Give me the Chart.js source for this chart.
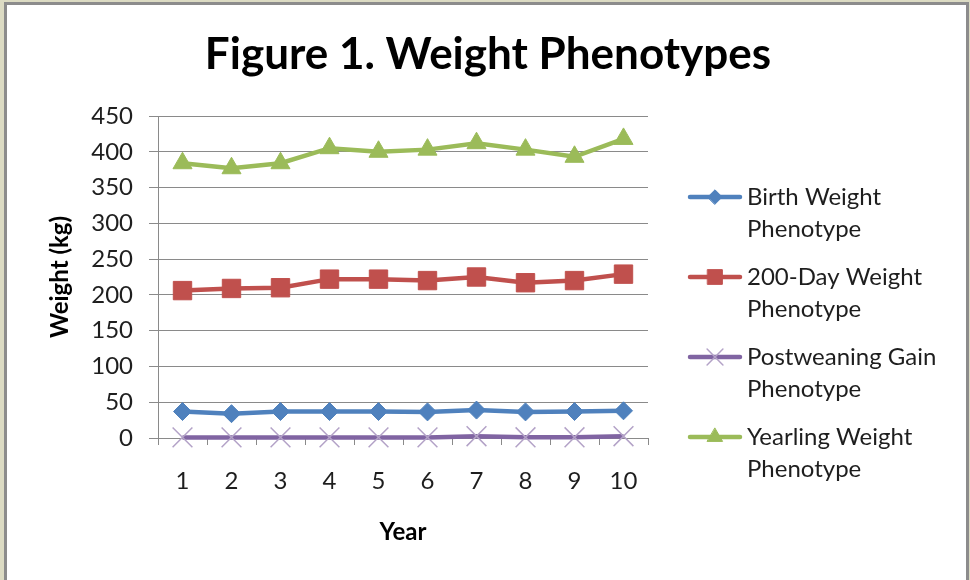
<!DOCTYPE html>
<html>
<head>
<meta charset="utf-8">
<title>Figure 1. Weight Phenotypes</title>
<script src="https://cdn.jsdelivr.net/npm/chart.js@4.4.1/dist/chart.umd.min.js"></script>
<style>
  body { margin: 0; background: #fff; }
  #frame { position: absolute; left: 0; top: 0; width: 970px; height: 580px; background: #dcdbc3; }
  #inner { position: absolute; left: 4px; top: 2px; width: 959px; height: 578px;
           border: 3px solid #8c8c8c; border-bottom: none; background: #fff; }
  #chart { position: absolute; left: 0; top: 0; }
</style>
</head>
<body>
<div id="frame"><div id="inner"></div></div>
<canvas id="chart" width="970" height="580"></canvas>
<script>
// Datos
const years = ['1', '2', '3', '4', '5', '6', '7', '8', '9', '10'];
const birthWeight = [37, 34, 37, 37, 37, 36.5, 39, 36.5, 37, 38];
const day200Weight = [206, 209, 210, 222, 222, 220, 225, 217, 220, 229];
const postweaningGain = [0.8, 0.8, 0.8, 0.8, 0.8, 0.8, 2.5, 1, 1, 2.5];
const yearlingWeight = [384, 377, 384, 405, 400, 403, 412, 403, 393, 418];

const seriesNames = [
    ['Birth Weight', 'Phenotype'],
    ['200-Day Weight', 'Phenotype'],
    ['Postweaning Gain', 'Phenotype'],
    ['Yearling Weight', 'Phenotype']
];
const yMin = 0;
const yMax = 450;
const yStep = 50;

const chartTitle = 'Figure 1. Weight Phenotypes';
const fontFamily = 'Lato, "Open Sans", sans-serif';
const gridColor = '#8a8a8a';
const textColor = '#1e1e1e';

function serie(idx, values, color, style, radius, markerFill, markerBorder, markerWidth) {
    return {
        label: seriesNames[idx].join(' '),
        lines: seriesNames[idx],
        data: values,
        borderColor: color,
        backgroundColor: color,
        borderWidth: 4.5,
        tension: 0,
        clip: false,
        pointStyle: style,
        pointRadius: radius,
        pointHoverRadius: radius,
        pointBackgroundColor: markerFill,
        pointBorderColor: markerBorder,
        pointBorderWidth: markerWidth
    };
}

// Titulo y leyenda dibujados a mano (leyenda en dos lineas)
const figureText = {
    id: 'figureText',
    afterDraw(chart) {
        const ctx = chart.ctx;
        ctx.save();
        ctx.fillStyle = '#000';
        ctx.font = 'bold 44px ' + fontFamily;
        ctx.textAlign = 'center';
        ctx.textBaseline = 'middle';
        ctx.fillText(chartTitle, 488, 55);

        ctx.textAlign = 'left';
        ctx.font = '24px ' + fontFamily;
        chart.data.datasets.forEach((ds, i) => {
            const y = 197 + i * 80;
            ctx.strokeStyle = ds.borderColor;
            ctx.lineWidth = ds.borderWidth;
            ctx.lineCap = 'round';
            ctx.beginPath();
            ctx.moveTo(690, y);
            ctx.lineTo(740, y);
            ctx.stroke();

            ctx.fillStyle = ds.pointBackgroundColor;
            ctx.strokeStyle = ds.pointBorderColor;
            ctx.lineWidth = ds.pointBorderWidth;
            Chart.helpers.drawPoint(ctx, {
                pointStyle: ds.pointStyle,
                radius: ds.pointRadius * 0.8,
                borderWidth: ds.pointBorderWidth,
                rotation: 0
            }, 715, y);

            ctx.fillStyle = textColor;
            ds.lines.forEach((txt, k) => ctx.fillText(txt, 747, y + k * 32));
        });
        ctx.restore();
    }
};

const ctx = document.getElementById('chart').getContext('2d');
const chart = new Chart(ctx, {
    type: 'line',
    data: {
        labels: years,
        datasets: [
            serie(0, birthWeight, '#4f81bd', 'rectRot', 9, '#4f81bd', '#4f81bd', 1),
            serie(1, day200Weight, '#c0504d', 'rect', 13, '#c0504d', '#c0504d', 1),
            serie(2, postweaningGain, '#8064a2', 'crossRot', 14, '#b3a2c7', '#b3a2c7', 1.5),
            serie(3, yearlingWeight, '#9bbb59', 'triangle', 11, '#9bbb59', '#9bbb59', 1)
        ]
    },
    options: {
        responsive: false,
        animation: false,
        devicePixelRatio: 1,
        layout: { padding: { top: 116, right: 322, bottom: 0, left: 0 } },
        plugins: {
            legend: { display: false },
            title: { display: false },
            tooltip: { enabled: false }
        },
        scales: {
            x: {
                offset: true,
                afterFit: s => { s.height = 142; },
                grid: { offset: true, drawOnChartArea: false, tickLength: 7, color: gridColor },
                border: { color: gridColor },
                ticks: { color: textColor, font: { family: fontFamily, size: 24 }, padding: 22 },
                title: {
                    display: true, text: 'Year', color: '#000',
                    font: { family: fontFamily, size: 24, weight: 'bold' },
                    padding: { top: 0, bottom: 33 }
                }
            },
            y: {
                min: yMin,
                max: yMax,
                afterFit: s => { s.width = 158; },
                grid: { color: gridColor, tickLength: 9 },
                border: { color: gridColor },
                ticks: { stepSize: yStep, color: textColor, font: { family: fontFamily, size: 24 }, padding: 16 },
                title: {
                    display: true, text: 'Weight (kg)', color: '#000',
                    font: { family: fontFamily, size: 24, weight: 'bold' },
                    padding: { top: 46, bottom: 0 }
                }
            }
        }
    },
    plugins: [figureText]
});
</script>
</body>
</html>
